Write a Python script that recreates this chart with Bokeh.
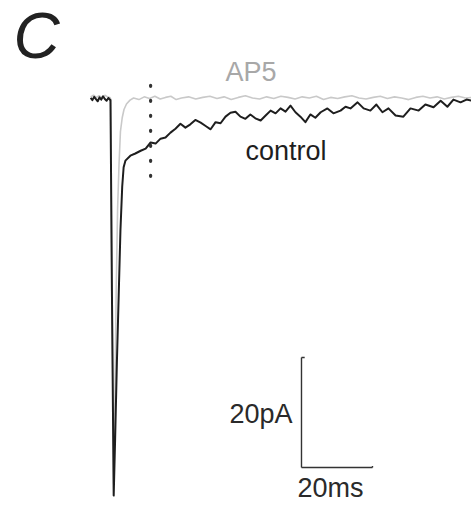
from bokeh.plotting import figure
from bokeh.models import Range1d, Label
from bokeh.embed import file_html
from bokeh.resources import INLINE

# ---- data (time in ms, current in pA; stimulus at t = 0) ----
control_t = [-5.6, -5.1, -4.6, -4.1, -3.6, -3.1, -2.6, -2.1, -1.6, -1.1, -0.6, -0.2,
             0.0, 0.4, 0.9, 1.3, 1.8, 2.3, 2.8, 3.3, 3.7, 4.2,
             5.6, 7.0, 8.5, 9.9, 11.3, 12.7, 14.1, 15.5, 16.9, 18.3, 19.7, 21.1, 22.5,
             23.9, 25.4, 26.8, 28.2, 29.6, 31.0, 32.4, 33.8, 35.2, 36.6, 38.0, 39.4,
             40.8, 42.3, 43.7, 45.1, 46.5, 47.9, 49.3, 50.7, 52.1, 53.5, 54.9, 56.3,
             57.7, 59.2, 61.1, 62.8, 64.8, 66.2, 67.6, 69.6, 71.3, 73.2, 74.9, 76.6,
             78.3, 80.3, 82.5, 84.5, 86.8, 88.7, 91.0, 93.0, 94.9, 96.6, 98.6, 100.3, 101.7]
control_i = [0.1, -0.3, 0.3, -0.1, -0.5, 0.2, -0.2, 0.4, -0.1, -0.4, 0.1, -0.2,
             -0.3, -35.0, -72.2, -62.0, -48.0, -36.0, -24.0, -16.0, -12.5, -11.3,
             -10.4, -10.0, -9.5, -9.1, -8.0, -8.2, -7.3, -7.1, -6.2, -5.5, -4.6, -5.3, -4.7,
             -3.9, -4.4, -5.0, -5.6, -4.3, -4.5, -3.3, -2.6, -2.4, -3.3, -3.7, -2.9,
             -3.6, -4.0, -3.1, -2.2, -2.7, -1.8, -2.4, -1.3, -2.5, -3.3, -4.3, -2.9,
             -3.5, -2.5, -1.8, -2.7, -2.2, -1.5, -1.8, -0.7, -1.8, -2.2, -1.1, -2.5,
             -1.8, -3.1, -3.3, -1.8, -2.2, -1.1, -1.6, -0.4, -1.5, -0.2, -0.7, -0.2, -0.4]

ap5_t = [-5.6, -4.8, -4.0, -3.2, -2.4, -1.6, -0.8, -0.2,
         0.0, 0.4, 0.9, 1.3, 1.6, 2.0, 2.4, 2.8, 3.3, 3.8, 4.5, 5.5,
         6.5, 8.0, 9.5, 11.0, 12.5, 14.0, 15.5, 17.0, 18.5, 20.0, 22.0, 24.0, 26.0,
         28.0, 30.0, 32.0, 34.0, 36.0, 38.0, 40.0, 42.0, 44.0, 46.0, 48.0, 50.0,
         52.0, 54.0, 56.0, 58.0, 60.0, 62.0, 64.0, 66.0, 68.0, 70.0, 72.0, 74.0,
         76.0, 78.0, 80.0, 82.0, 84.0, 86.0, 88.0, 90.0, 92.0, 94.0, 96.0, 98.0,
         100.0, 101.7]
ap5_i = [0.3, 0.6, 0.2, 0.5, 0.1, 0.6, 0.3, 0.2,
         0.0, -34.0, -70.0, -52.0, -35.0, -20.0, -12.0, -6.0, -3.5, -2.0, -1.0, -0.3,
         0.1, -0.2, 0.3, 0.0, 0.4, -0.1, 0.2, 0.4, -0.2, 0.1, 0.3, -0.1, 0.2,
         0.4, 0.0, 0.3, -0.2, 0.2, 0.5, 0.1, -0.1, 0.3, 0.0, 0.4, 0.2,
         -0.1, 0.3, 0.1, 0.4, -0.2, 0.2, 0.0, 0.3, 0.5, 0.1, -0.1, 0.2,
         0.4, 0.0, 0.3, 0.1, -0.2, 0.2, 0.4, 0.1, 0.3, -0.1, 0.2, 0.4,
         0.1, 0.2]

marker_t = 11.3            # dotted time marker (ms)
marker_span = [2.4, -14.2]  # pA extent of the dotted marker

bar_t0, bar_len_ms = 53.8, 20.0    # scale bar origin (ms) and length
bar_i0, bar_len_pa = -67.1, 20.0   # scale bar origin (pA) and length

labels = {"panel": "C", "ap5": "AP5", "control": "control",
          "pa": "20pA", "ms": "20ms"}

# ---- figure ----
W, H = 471, 507
px_per_ms, px_per_pa = 3.55, 5.5
x0_px, y0_px = 110, 98  # stimulus time / baseline position in pixels
xr = Range1d(-x0_px / px_per_ms, (W - x0_px) / px_per_ms)
yr = Range1d(-(H - y0_px) / px_per_pa, y0_px / px_per_pa)

p = figure(width=W, height=H, x_range=xr, y_range=yr, output_backend="svg",
           toolbar_location=None, min_border=0, x_axis_location=None,
           y_axis_location=None)
p.grid.visible = False
p.outline_line_color = None
p.background_fill_color = "white"
p.border_fill_color = "white"

p.line(ap5_t, ap5_i, line_color="#c9c9c9", line_width=1.6)
p.line(control_t, control_i, line_color="#1e1e1e", line_width=2.0,
       line_join="round")

p.segment(x0=[marker_t], y0=[marker_span[0]], x1=[marker_t], y1=[marker_span[1]],
          line_color="#333333", line_width=3.2, line_dash="1 14", line_cap="round")

# scale bar
p.segment(x0=[bar_t0, bar_t0], y0=[bar_i0, bar_i0],
          x1=[bar_t0, bar_t0 + bar_len_ms], y1=[bar_i0 + bar_len_pa, bar_i0],
          line_color="#333333", line_width=1.4)
p.segment(x0=[bar_t0, bar_t0 + bar_len_ms], y0=[bar_i0 + bar_len_pa, bar_i0],
          x1=[bar_t0 + 0.9, bar_t0 + bar_len_ms], y1=[bar_i0 + bar_len_pa, bar_i0 + 0.3],
          line_color="#333333", line_width=1.4)

font = "Liberation Sans"
p.add_layout(Label(x=13, y=H - 71, x_units="screen", y_units="screen",
                   text=labels["panel"], text_font=font, text_font_size="64px",
                   text_font_style="italic", text_color="#222222",
                   text_baseline="bottom"))
p.add_layout(Label(x=225, y=H - 86, x_units="screen", y_units="screen",
                   text=labels["ap5"], text_font=font, text_font_size="27px",
                   text_color="#a8a8a8", text_baseline="bottom"))
p.add_layout(Label(x=245, y=H - 165, x_units="screen", y_units="screen",
                   text=labels["control"], text_font=font, text_font_size="27px",
                   text_color="#1e1e1e", text_baseline="bottom"))
p.add_layout(Label(x=bar_t0, y=bar_i0 + bar_len_pa / 2, x_offset=-9, y_offset=-16,
                   text=labels["pa"], text_font=font, text_font_size="27px",
                   text_align="right", text_baseline="bottom", text_color="#2a2a2a"))
p.add_layout(Label(x=bar_t0, y=bar_i0, x_offset=-4, y_offset=-35,
                   text=labels["ms"], text_font=font, text_font_size="27px",
                   text_align="left", text_baseline="bottom", text_color="#2a2a2a"))

open("out.html", "w").write(file_html(p, INLINE))
